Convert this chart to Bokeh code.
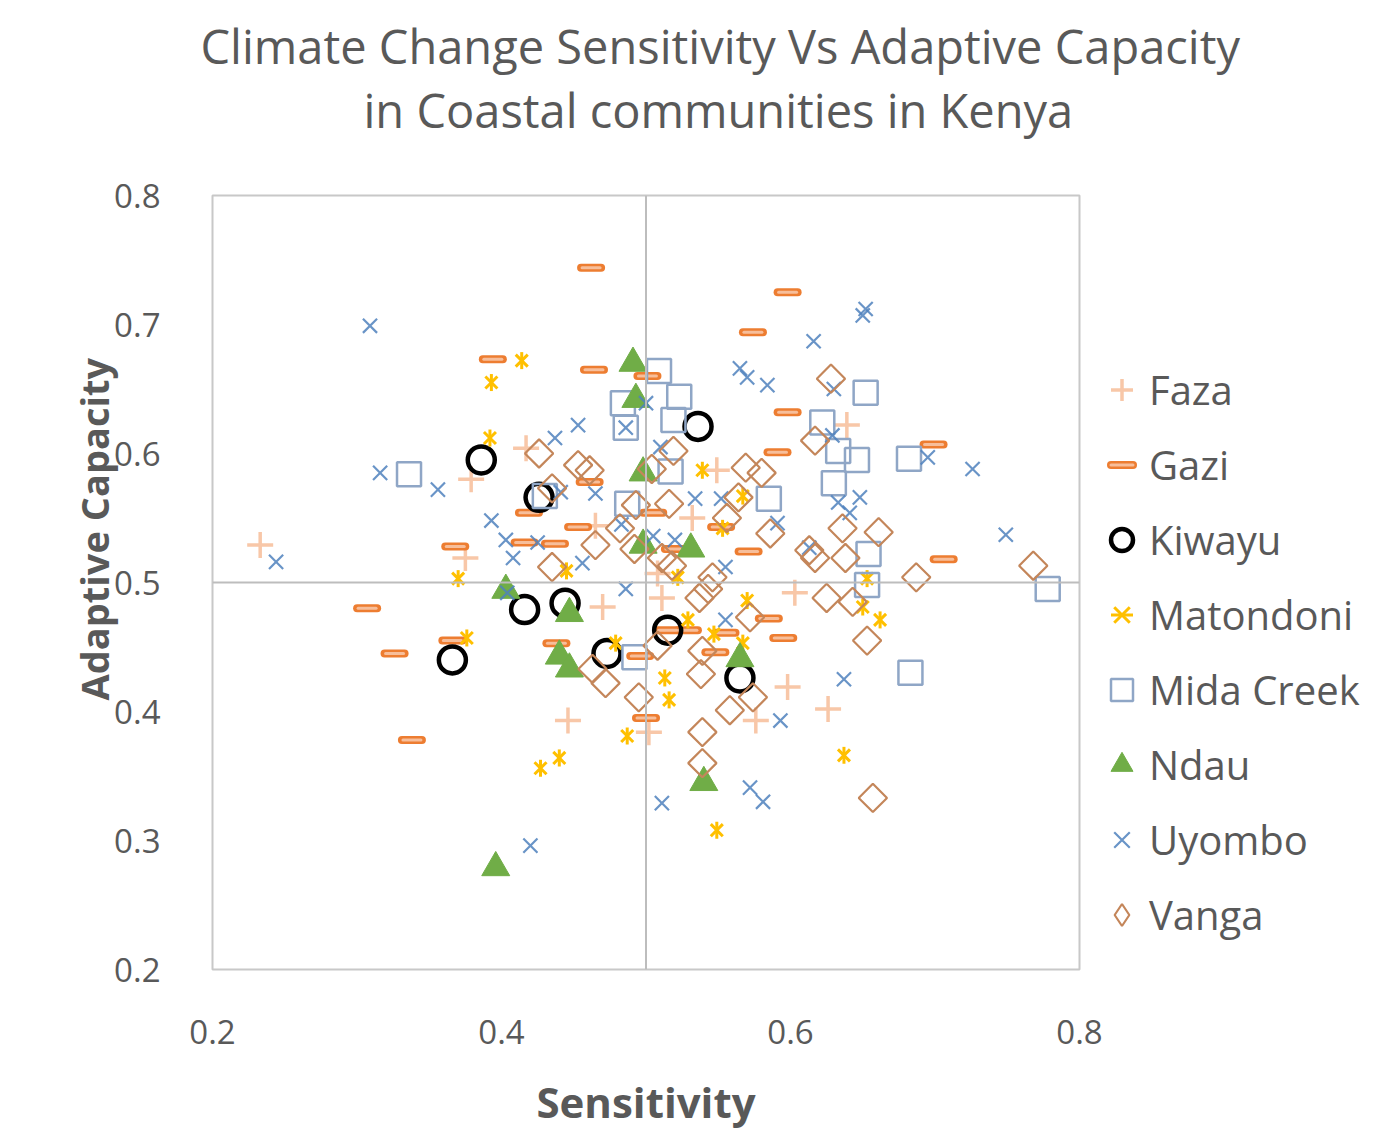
import numpy as np
from bokeh.plotting import figure
from bokeh.models import Span, Legend, LegendItem, Title, FixedTicker, Range1d
from bokeh.embed import file_html
from bokeh.resources import INLINE

# ---------------- data ----------------
faza_x = [0.233, 0.379, 0.417, 0.465, 0.375, 0.470, 0.446, 0.502, 0.511, 0.603,
          0.598, 0.626, 0.576, 0.549, 0.532, 0.639, 0.508]
faza_y = [0.529, 0.580, 0.604, 0.544, 0.519, 0.481, 0.393, 0.384, 0.488, 0.492,
          0.419, 0.402, 0.393, 0.587, 0.550, 0.622, 0.507]

gazi_x = [0.462, 0.394, 0.464, 0.501, 0.419, 0.453, 0.368, 0.416, 0.437, 0.461,
          0.598, 0.574, 0.598, 0.591, 0.699, 0.505, 0.552, 0.571, 0.706, 0.307,
          0.366, 0.326, 0.438, 0.496, 0.500, 0.338, 0.585, 0.515, 0.529, 0.555,
          0.595, 0.548, 0.520]
gazi_y = [0.744, 0.673, 0.665, 0.660, 0.554, 0.543, 0.528, 0.531, 0.530, 0.578,
          0.725, 0.694, 0.632, 0.601, 0.607, 0.554, 0.543, 0.524, 0.518, 0.480,
          0.455, 0.445, 0.453, 0.443, 0.395, 0.378, 0.472, 0.463, 0.463, 0.461,
          0.457, 0.446, 0.526]

kiwayu_x = [0.386, 0.426, 0.536, 0.416, 0.444, 0.366, 0.473, 0.515, 0.565]
kiwayu_y = [0.595, 0.566, 0.621, 0.479, 0.484, 0.440, 0.445, 0.463, 0.426]

matondoni_x = [0.414, 0.393, 0.392, 0.445, 0.370, 0.376, 0.479, 0.487, 0.440, 0.427,
               0.539, 0.567, 0.553, 0.522, 0.653, 0.650, 0.662, 0.570, 0.529, 0.547,
               0.567, 0.513, 0.516, 0.637, 0.549]
matondoni_y = [0.672, 0.655, 0.612, 0.509, 0.503, 0.457, 0.453, 0.381, 0.364, 0.356,
               0.587, 0.567, 0.542, 0.504, 0.503, 0.481, 0.471, 0.486, 0.471, 0.460,
               0.453, 0.426, 0.409, 0.366, 0.308]

mida_x = [0.336, 0.484, 0.486, 0.430, 0.487, 0.509, 0.652, 0.523, 0.519, 0.622,
          0.633, 0.646, 0.682, 0.517, 0.630, 0.585, 0.654, 0.778, 0.653, 0.492, 0.683]
mida_y = [0.584, 0.639, 0.620, 0.567, 0.561, 0.664, 0.647, 0.644, 0.626, 0.624,
          0.602, 0.595, 0.596, 0.586, 0.577, 0.565, 0.522, 0.495, 0.498, 0.442, 0.430]

ndau_x = [0.491, 0.493, 0.498, 0.498, 0.531, 0.403, 0.447, 0.440, 0.447, 0.565, 0.540, 0.396]
ndau_y = [0.670, 0.642, 0.585, 0.529, 0.526, 0.494, 0.476, 0.443, 0.433, 0.441, 0.345, 0.279]

uyombo_x = [0.309, 0.500, 0.486, 0.453, 0.437, 0.316, 0.356, 0.441, 0.465, 0.393,
            0.244, 0.403, 0.425, 0.408, 0.456, 0.483, 0.652, 0.650, 0.616, 0.565,
            0.570, 0.584, 0.630, 0.629, 0.510, 0.695, 0.726, 0.534, 0.552, 0.648,
            0.633, 0.641, 0.591, 0.749, 0.505, 0.520, 0.613, 0.555, 0.404, 0.486,
            0.555, 0.637, 0.593, 0.572, 0.581, 0.511, 0.420]
uyombo_y = [0.699, 0.639, 0.620, 0.622, 0.612, 0.585, 0.572, 0.570, 0.569, 0.548,
            0.516, 0.533, 0.531, 0.519, 0.515, 0.545, 0.712, 0.707, 0.687, 0.666,
            0.659, 0.653, 0.650, 0.614, 0.605, 0.597, 0.588, 0.565, 0.565, 0.566,
            0.562, 0.554, 0.546, 0.537, 0.536, 0.533, 0.527, 0.512, 0.492, 0.495,
            0.471, 0.425, 0.393, 0.341, 0.330, 0.329, 0.296]

vanga_x = [0.426, 0.453, 0.461, 0.435, 0.493, 0.482, 0.465, 0.435, 0.492, 0.504,
           0.628, 0.617, 0.519, 0.569, 0.580, 0.564, 0.516, 0.556, 0.586, 0.636,
           0.661, 0.613, 0.617, 0.638, 0.768, 0.546, 0.543, 0.687, 0.511, 0.518,
           0.463, 0.472, 0.495, 0.537, 0.625, 0.643, 0.572, 0.653, 0.539, 0.538,
           0.574, 0.558, 0.539, 0.539, 0.657, 0.508]
vanga_y = [0.600, 0.591, 0.587, 0.573, 0.560, 0.542, 0.529, 0.512, 0.526, 0.588,
           0.658, 0.610, 0.602, 0.589, 0.585, 0.566, 0.561, 0.550, 0.538, 0.542,
           0.539, 0.525, 0.519, 0.519, 0.513, 0.504, 0.495, 0.504, 0.519, 0.513,
           0.433, 0.422, 0.411, 0.488, 0.488, 0.485, 0.473, 0.455, 0.447, 0.429,
           0.411, 0.401, 0.384, 0.360, 0.333, 0.451]

series_names = ["Faza", "Gazi", "Kiwayu", "Matondoni", "Mida Creek", "Ndau", "Uyombo", "Vanga"]
x_ticks = [0.2, 0.4, 0.6, 0.8]
y_ticks = [0.2, 0.3, 0.4, 0.5, 0.6, 0.7, 0.8]
title_line1 = "Climate Change Sensitivity Vs Adaptive Capacity"
title_line2 = "in Coastal communities in Kenya"
x_title = "Sensitivity"
y_title = "Adaptive Capacity"

# ---------------- figure ----------------
FONT = "Open Sans"
GREY = "#595959"

p = figure(frame_width=867, frame_height=774, x_range=(0.2, 0.8), y_range=(0.2, 0.8),
           output_backend="svg", toolbar_location=None,
           min_border_left=212, min_border_right=300, min_border_top=195, min_border_bottom=150)
p.title.visible = False
p.background_fill_color = "white"
p.border_fill_color = "white"
p.outline_line_color = "#C8C8C8"
p.outline_line_width = 2
p.xgrid.visible = False
p.ygrid.visible = False
# range used only by the legend proxy glyph (keeps it outside the visible frame)
p.extra_x_ranges = {"legend_only": Range1d(start=10, end=11)}

for ax in (p.xaxis[0], p.yaxis[0]):
    ax.axis_line_color = None
    ax.major_tick_line_color = None
    ax.minor_tick_line_color = None
    ax.major_label_text_font = FONT
    ax.major_label_text_font_size = "33px"
    ax.major_label_text_color = GREY
    ax.axis_label_text_font = FONT
    ax.axis_label_text_font_style = "bold"
    ax.axis_label_text_color = GREY
    ax.major_tick_out = 0
    ax.major_tick_in = 0

p.xaxis.axis_label_text_font_size = "42px"
p.xaxis.ticker = FixedTicker(ticks=x_ticks)
p.yaxis.ticker = FixedTicker(ticks=y_ticks)
p.xaxis.major_label_overrides = {t: f"{t:.1f}" for t in x_ticks}
p.yaxis.major_label_overrides = {t: f"{t:.1f}" for t in y_ticks}
p.xaxis.axis_label = x_title
p.xaxis.major_label_standoff = 50
p.yaxis.major_label_standoff = 52
p.xaxis.axis_label_standoff = 26

# y-axis title as a vertical Title in the left panel (lets it sit like the original)
ty = Title(text=y_title, align="left", vertical_align="bottom", text_font=FONT,
           text_font_size="38px", text_font_style="bold", text_color=GREY,
           offset=269, standoff=-16)
p.add_layout(ty, "left")

p.add_layout(Span(location=0.5, dimension="height", line_color="#BDBDBD", line_width=2))
p.add_layout(Span(location=0.5, dimension="width", line_color="#BDBDBD", line_width=2))

# titles (second line closest to the plot)
t2 = Title(text=title_line2, align="left", text_font=FONT, text_font_size="47px",
           text_font_style="normal", text_color=GREY, offset=151, standoff=108)
t1 = Title(text=title_line1, align="left", text_font=FONT, text_font_size="47px",
           text_font_style="normal", text_color=GREY, offset=-12, standoff=-112)
p.add_layout(t2, "above")
p.add_layout(t1, "above")

# ---------------- series ----------------
r_faza = p.scatter(faza_x, faza_y, marker="cross", size=26, line_width=3.5,
                   line_color="#F8C7A8")
r_gazi_o = p.scatter(gazi_x, gazi_y, marker="dash", size=20, line_width=8,
                     line_color="#ED7D31", line_cap="round")
r_gazi_i = p.scatter(gazi_x, gazi_y, marker="dash", size=18, line_width=3,
                     line_color="#F7BE9A", line_cap="round")
r_kiw = p.scatter(kiwayu_x, kiwayu_y, marker="circle", size=27, line_width=4.5,
                  line_color="black", fill_color=None)
r_mat_x = p.scatter(matondoni_x, matondoni_y, marker="x", size=17, line_width=3,
                    line_color="#FFC000")
r_mat_v = p.scatter(matondoni_x, matondoni_y, marker="dash", angle=np.pi / 2, size=17,
                    line_width=3, line_color="#FFC000")
r_mida = p.scatter(mida_x, mida_y, marker="square", size=24, line_width=2.5,
                   line_color="#8FA6C6", fill_color=None)
r_ndau = p.scatter(ndau_x, ndau_y, marker="triangle", size=28, line_width=1,
                   line_color="#70AD47", fill_color="#70AD47")
r_uy = p.scatter(uyombo_x, uyombo_y, marker="x", size=20, line_width=2.2,
                 line_color="#4F81BD", line_alpha=0.85)
r_van = p.scatter(vanga_x, vanga_y, marker="square", angle=np.pi / 4, size=20,
                  line_width=2.2, line_color="#C4865A", fill_color=None)
# legend-only diamond for Vanga (mapped onto the off-screen range)
r_van_leg = p.scatter(vanga_x[:1], vanga_y[:1], x_range_name="legend_only",
                      marker="diamond", size=20, line_width=2.2,
                      line_color="#C4865A", fill_color=None)

renderers = [[r_faza], [r_gazi_o, r_gazi_i], [r_kiw], [r_mat_x, r_mat_v], [r_mida],
             [r_ndau], [r_uy], [r_van_leg]]
items = [LegendItem(label=n, renderers=r) for n, r in zip(series_names, renderers)]
legend = Legend(items=items, location=(15, 17), padding=0, margin=0,
                glyph_width=55, glyph_height=55, label_height=75, spacing=0,
                label_standoff=-10, label_text_font=FONT, label_text_font_size="40px",
                label_text_color=GREY, border_line_color=None, background_fill_alpha=0)
p.add_layout(legend, "right")

open("out.html", "w").write(file_html(p, INLINE))
